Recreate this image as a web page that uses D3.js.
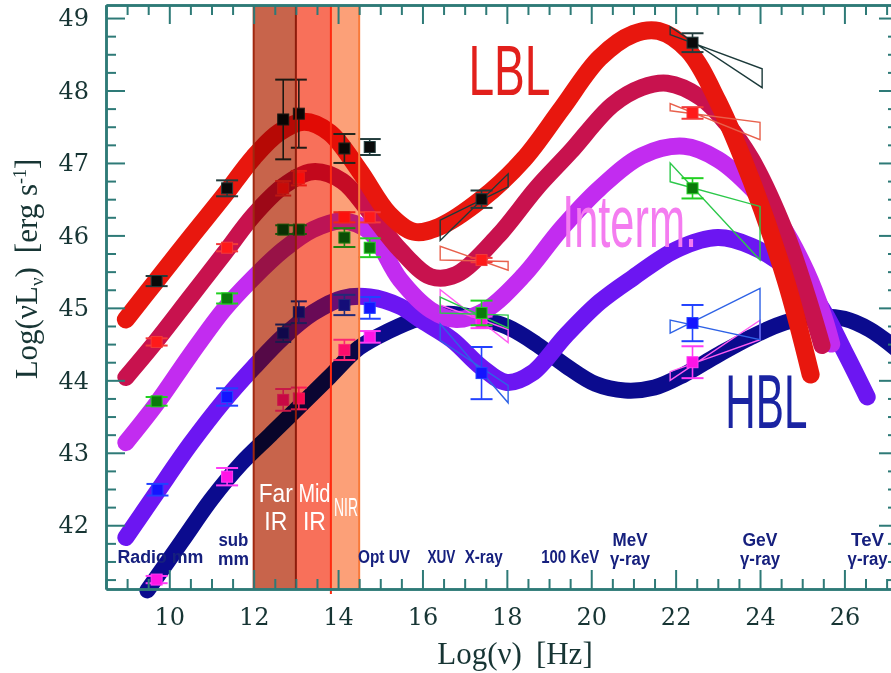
<!DOCTYPE html>
<html>
<head>
<meta charset="utf-8">
<script src="https://cdn.jsdelivr.net/npm/d3@7"></script>
<style>
  html, body { margin: 0; padding: 0; background: #fff; }
  svg { display: block; }
</style>
</head>
<body>
<div id="chart"></div>
<script>
// model curves, [log nu, log nuLnu]
const lblCurve = [[8.97,44.84],[9.7,45.38],[10.5,45.97],[11.3,46.55],[12.0,47.08],[12.6,47.42],[13.2,47.57],[13.8,47.42],[14.5,46.9],[15.2,46.3],[15.8,46.05],[16.4,46.12],[17.4,46.5],[18.4,47.05],[19.3,47.75],[20.2,48.45],[21.0,48.78],[21.6,48.82],[22.3,48.55],[23.0,47.85],[23.8,46.75],[24.6,45.4],[25.2,44.08]];
const hplCurve = [[8.97,44.04],[9.7,44.55],[10.5,45.15],[11.3,45.75],[12.0,46.28],[12.7,46.68],[13.4,46.88],[14.1,46.75],[14.75,46.32],[15.47,45.8],[16.2,45.43],[16.8,45.46],[17.8,46.0],[18.7,46.65],[19.5,47.15],[20.5,47.8],[21.2,48.04],[21.8,48.1],[22.6,47.9],[23.2,47.55],[23.8,47.05],[24.6,46.05],[25.1,45.2],[25.47,44.48]];
const intCurve = [[8.97,43.14],[9.7,43.68],[10.5,44.35],[11.3,44.98],[12.0,45.42],[12.7,45.8],[13.4,46.08],[14.1,46.2],[14.75,46.05],[15.47,45.39],[16.2,44.97],[16.8,44.84],[17.5,44.97],[18.4,45.45],[19.3,46.1],[20.2,46.65],[21.2,47.1],[22.2,47.23],[23.0,47.05],[23.8,46.65],[24.5,46.15],[25.1,45.5],[25.5,44.9],[25.7,44.5]];
const lowCurve = [[8.97,41.83],[9.7,42.45],[10.5,43.12],[11.3,43.72],[12.0,44.18],[12.7,44.6],[13.4,44.93],[14.1,45.13],[14.75,45.15],[15.47,45.02],[16.0,44.82],[16.7,44.56],[17.4,44.18],[18.0,43.97],[18.6,44.1],[19.4,44.62],[20.2,45.08],[21.0,45.42],[22.0,45.8],[23.0,45.97],[23.8,45.85],[24.6,45.56],[25.4,45.05],[26.0,44.4],[26.54,43.77]];
const hblCurve = [[9.48,41.1],[10.3,41.78],[11.0,42.36],[11.7,42.85],[12.4,43.25],[13.1,43.65],[13.8,44.05],[14.5,44.45],[15.2,44.68],[15.9,44.85],[16.6,44.92],[17.3,44.86],[18.0,44.74],[18.7,44.5],[19.4,44.2],[20.1,43.95],[20.8,43.86],[21.5,43.9],[22.2,44.08],[23.0,44.35],[23.8,44.6],[24.6,44.8],[25.4,44.88],[26.0,44.85],[26.6,44.7],[27.3,44.4]];

// measured points, [log nu, log nuLnu, error]
const lblPoints = [[9.7,45.37,0.07],[11.37,46.65,0.11],[12.7,47.6,0.55],[13.07,47.68,0.47],[14.15,47.2,0.2],[14.75,47.22,0.11],[17.4,46.5,0.12],[22.4,48.66,0.13]];
const hplPoints = [[9.7,44.53,0.05],[11.37,45.83,0.05],[12.7,46.65,0.1],[13.07,46.79,0.1],[14.15,46.25,0.07],[14.75,46.25,0.07],[17.4,45.66,0.03],[22.4,47.69,0.08]];
const intPoints = [[9.7,43.71,0.06],[11.37,45.13,0.07],[12.7,46.08,0.06],[13.07,46.08,0.06],[14.15,45.97,0.13],[14.75,45.83,0.13],[17.4,44.93,0.17],[22.4,46.65,0.14]];
const lowPoints = [[9.72,42.49,0.08],[11.37,43.77,0.12],[12.7,44.65,0.12],[13.07,44.94,0.15],[14.15,45.04,0.14],[14.75,45.0,0.15],[17.4,44.1,0.36],[22.4,44.79,0.25]];
const hblPoints = [[9.7,41.25,0.05],[11.37,42.67,0.12],[12.7,43.73,0.15],[13.07,43.75,0.15],[14.15,44.42,0.14],[14.75,44.6,0.08],[17.4,44.8,0.08],[22.4,44.25,0.22]];

// bow ties, [nu1, lo1, hi1, nu2, lo2, hi2]
const lblTies = [[16.42,45.93,46.21,18.03,46.67,46.85],[21.87,48.77,48.88,24.05,48.04,48.3]];
const hplTies = [[16.42,45.66,45.85,18.03,45.52,45.64],[21.87,47.72,47.82,24.0,47.32,47.56]];
const intTies = [[16.42,44.93,45.15,18.03,44.72,44.9],[21.87,46.74,47.0,24.0,45.66,46.4]];
const lowTies = [[16.42,44.55,44.78,18.03,43.69,43.93],[21.87,44.65,44.83,24.0,44.56,45.27]];
const hblTies = [[16.42,45.04,45.25,18.03,44.52,44.7],[21.87,44.0,44.12,24.0,44.56,44.83]];

// infrared bands
const bandNames = [['Far', 'IR'], ['Mid', 'IR'], ['NIR']];
const bandFrom = [12.0, 13.0, 13.83];
const bandTo = [13.0, 13.83, 14.5];

// spectral regions along the bottom
const regionNames = [['Radio mm'], ['sub', 'mm'], ['Opt UV'], ['XUV'], ['X-ray'], ['100 KeV'], ['MeV', 'γ-ray'], ['GeV', 'γ-ray'], ['TeV', 'γ-ray']];
const regionNu = [9.79, 11.52, 15.09, 16.45, 17.45, 19.5, 20.92, 24.0, 26.55];

const xTicks = [10, 12, 14, 16, 18, 20, 22, 24, 26];
const yTicks = [42, 43, 44, 45, 46, 47, 48, 49];

const width = 891, height = 673;
const x = d3.scaleLinear().domain([8.5, 27.27]).range([106, 898]);
const y = d3.scaleLinear().domain([41.12, 49.18]).range([589, 5]);

const svg = d3.select('#chart').append('svg')
  .attr('width', width)
  .attr('height', height);

svg.append('rect').attr('width', width).attr('height', height).attr('fill', '#fff');

const plot = svg.append('g').attr('class', 'plot');

const line = d3.line()
  .x(d => x(d[0]))
  .y(d => y(d[1]))
  .curve(d3.curveCatmullRom.alpha(0.5));

const curves = [
  { data: hblCurve, color: '#0b0b8e', w: 16 },
  { data: lowCurve, color: '#6c16f2', w: 17 },
  { data: intCurve, color: '#c22cf0', w: 17 },
  { data: hplCurve, color: '#c8124e', w: 17 },
  { data: lblCurve, color: '#e8170e', w: 18 }
];

plot.selectAll('path.sed')
  .data(curves)
  .join('path')
  .attr('class', 'sed')
  .attr('d', d => line(d.data))
  .attr('fill', 'none')
  .attr('stroke', d => d.color)
  .attr('stroke-width', d => d.w)
  .attr('stroke-linecap', 'round')
  .attr('stroke-linejoin', 'round');

const series = [
  { pts: hblPoints, ties: hblTies, fill: '#ff14e6', bar: '#ff3cf5', tie: '#ff5cf2' },
  { pts: lowPoints, ties: lowTies, fill: '#1414ff', bar: '#2242ff', tie: '#2e62e6' },
  { pts: intPoints, ties: intTies, fill: '#0b7a0b', bar: '#22d022', tie: '#2cc84a' },
  { pts: hplPoints, ties: hplTies, fill: '#ff1a1a', bar: '#f33a3a', tie: '#e8604c' },
  { pts: lblPoints, ties: lblTies, fill: '#0a0a0a', bar: '#223c3c', tie: '#1c3a3a' }
];

const tiePath = t => 'M' + [[t[0], t[1]], [t[3], t[5]], [t[3], t[4]], [t[0], t[2]]]
  .map(p => x(p[0]) + ',' + y(p[1])).join('L') + 'Z';

series.forEach(s => {
  const g = plot.append('g');
  g.selectAll('path.tie')
    .data(s.ties)
    .join('path')
    .attr('class', 'tie')
    .attr('d', tiePath)
    .attr('fill', 'none')
    .attr('stroke', s.tie)
    .attr('stroke-width', 1.4);

  const eb = g.selectAll('g.eb')
    .data(s.pts)
    .join('g')
    .attr('class', 'eb');
  const capHalf = d => (d[0] > 12 && d[0] < 13.5 ? 8 : 11);
  eb.append('line')
    .attr('x1', d => x(d[0])).attr('x2', d => x(d[0]))
    .attr('y1', d => y(d[1] - d[2])).attr('y2', d => y(d[1] + d[2]))
    .attr('stroke', s.bar).attr('stroke-width', 1.6);
  [-1, 1].forEach(k => {
    eb.append('line')
      .attr('x1', d => x(d[0]) - capHalf(d)).attr('x2', d => x(d[0]) + capHalf(d))
      .attr('y1', d => y(d[1] + k * d[2])).attr('y2', d => y(d[1] + k * d[2]))
      .attr('stroke', s.bar).attr('stroke-width', 2);
  });
  eb.append('rect')
    .attr('x', d => x(d[0]) - 5.5).attr('y', d => y(d[1]) - 5.5)
    .attr('width', 11).attr('height', 11)
    .attr('fill', s.fill)
    .attr('stroke', s.bar).attr('stroke-width', 1);
});

// IR bands laid over the curves
const bands = plot.append('g').style('mix-blend-mode', 'multiply');
const bandFill = ['#c8644b', '#f8705a', '#fca078'];
const bandEdge = ['#a02810', '#8e1c0c', '#ff2a10', '#f87a3a'];
bands.selectAll('rect')
  .data(bandFrom)
  .join('rect')
  .attr('x', d => x(d))
  .attr('y', y.range()[1])
  .attr('width', (d, i) => x(bandTo[i]) - x(d))
  .attr('height', y.range()[0] - y.range()[1])
  .attr('fill', (d, i) => bandFill[i]);

const edges = bandFrom.concat([bandTo[2]]);
plot.selectAll('line.edge')
  .data(edges)
  .join('line')
  .attr('class', 'edge')
  .attr('x1', d => x(d)).attr('x2', d => x(d))
  .attr('y1', y.range()[1]).attr('y2', (d, i) => i === 2 ? y.range()[0] + 5 : y.range()[0])
  .attr('stroke', (d, i) => bandEdge[i])
  .attr('stroke-width', 2);

const bandWidth = { Far: 34, Mid: 32, IR: 23, NIR: 24 };
plot.selectAll('g.bandlabel')
  .data(bandNames)
  .join('g')
  .attr('class', 'bandlabel')
  .each(function (lines, i) {
    const cx = (x(bandFrom[i]) + x(bandTo[i])) / 2 + 1;
    d3.select(this).selectAll('text')
      .data(lines)
      .join('text')
      .attr('x', cx)
      .attr('y', (t, j) => lines.length === 1 ? 516 : 502 + j * 28)
      .attr('text-anchor', 'middle')
      .attr('fill', '#fff')
      .attr('font-family', 'Liberation Sans, Arial, sans-serif')
      .attr('font-size', 26)
      .attr('textLength', t => bandWidth[t])
      .attr('lengthAdjust', 'spacingAndGlyphs')
      .text(t => t);
  });

// region names
const regionWidth = { 'Radio mm': 86, sub: 30, mm: 31, 'Opt UV': 52, XUV: 28, 'X-ray': 38, '100 KeV': 58, MeV: 35, GeV: 35, TeV: 33, 'γ-ray': 40 };
plot.selectAll('g.region')
  .data(regionNames)
  .join('g')
  .attr('class', 'region')
  .each(function (lines, i) {
    d3.select(this).selectAll('text')
      .data(lines)
      .join('text')
      .attr('x', x(regionNu[i]))
      .attr('y', (t, j) => lines.length === 1 ? 563 : 546 + j * 19)
      .attr('text-anchor', 'middle')
      .attr('fill', '#16207e')
      .attr('font-family', 'Liberation Sans, Arial, sans-serif')
      .attr('font-weight', 'bold')
      .attr('font-size', 18)
      .attr('textLength', t => regionWidth[t])
      .attr('lengthAdjust', 'spacingAndGlyphs')
      .text(t => t);
  });

// class labels
const classes = [
  { t: 'LBL', nu: 18.06, l: 47.94, c: '#e2201c', w: 82, fs: 70 },
  { t: 'Interm.', nu: 20.91, l: 45.84, c: '#f47cf0', w: 135, fs: 75 },
  { t: 'HBL', nu: 24.15, l: 43.34, c: '#1a24a2', w: 82, fs: 76 }
];
plot.selectAll('text.cls')
  .data(classes)
  .join('text')
  .attr('class', 'cls')
  .attr('x', d => x(d.nu))
  .attr('y', d => y(d.l))
  .attr('text-anchor', 'middle')
  .attr('fill', d => d.c)
  .attr('font-family', 'Liberation Sans, Arial, sans-serif')
  .attr('font-size', d => d.fs)
  .attr('textLength', d => d.w)
  .attr('lengthAdjust', 'spacingAndGlyphs')
  .text(d => d.t);

// axes, ticks pointing inward on all four sides
const axisColor = '#2e7a77';
const minorX = d3.range(8.5, 27.3, 0.5).filter(v => v % 2 !== 0);
const minorY = d3.range(41.25, 49.1, 0.25).filter(v => v % 1 !== 0);

function styleAxis(g) {
  g.select('.domain').attr('stroke', axisColor).attr('stroke-width', 2.5);
  g.selectAll('.tick line').attr('stroke', axisColor).attr('stroke-width', 2);
  g.selectAll('.tick text')
    .attr('fill', '#173534')
    .attr('font-family', 'DejaVu Serif, serif')
    .attr('font-size', 24);
}

const axes = svg.append('g');
const axBottom = axes.append('g').attr('transform', `translate(0,${y.range()[0]})`);
axBottom.append('g').call(d3.axisBottom(x).tickValues(minorX).tickSize(-10).tickSizeOuter(0).tickFormat('')).call(styleAxis);
axBottom.append('g').call(d3.axisBottom(x).tickValues(xTicks).tickSize(-19).tickSizeOuter(0).tickPadding(19).tickFormat(d3.format('d'))).call(styleAxis);

const axTop = axes.append('g').attr('transform', `translate(0,${y.range()[1]})`);
axTop.append('g').call(d3.axisTop(x).tickValues(minorX).tickSize(-10).tickSizeOuter(0).tickFormat('')).call(styleAxis);
axTop.append('g').call(d3.axisTop(x).tickValues(xTicks).tickSize(-19).tickSizeOuter(0).tickFormat('')).call(styleAxis);

const axLeft = axes.append('g').attr('transform', `translate(${x.range()[0]},0)`);
axLeft.append('g').call(d3.axisLeft(y).tickValues(minorY).tickSize(-10).tickSizeOuter(0).tickFormat('')).call(styleAxis);
axLeft.append('g').call(d3.axisLeft(y).tickValues(yTicks).tickSize(-19).tickSizeOuter(0).tickPadding(17).tickFormat(d3.format('d'))).call(styleAxis);

const axRight = axes.append('g').attr('transform', `translate(${x.range()[1]},0)`);
axRight.append('g').call(d3.axisRight(y).tickValues(minorY).tickSize(-10).tickSizeOuter(0).tickFormat('')).call(styleAxis);
axRight.append('g').call(d3.axisRight(y).tickValues(yTicks).tickSize(-19).tickSizeOuter(0).tickFormat('')).call(styleAxis);

// axis titles
const xTitle = svg.append('text')
  .attr('x', 515).attr('y', 664)
  .attr('text-anchor', 'middle')
  .attr('fill', '#173534')
  .attr('font-family', 'Liberation Serif, serif')
  .attr('font-size', 31);
xTitle.append('tspan').text('Log(ν)');
xTitle.append('tspan').attr('dx', 14).text('[Hz]');

const yTitle = svg.append('text')
  .attr('transform', 'translate(37,269) rotate(-90)')
  .attr('text-anchor', 'middle')
  .attr('fill', '#173534')
  .attr('font-family', 'Liberation Serif, serif')
  .attr('font-size', 31);
yTitle.append('tspan').text('Log(νL');
yTitle.append('tspan').attr('font-size', 19).attr('dy', 6).text('ν');
yTitle.append('tspan').attr('dy', -6).text(')');
yTitle.append('tspan').attr('dx', 14).text('[erg s');
yTitle.append('tspan').attr('font-size', 18).attr('dy', -11).text('-1');
yTitle.append('tspan').attr('dy', 11).text(']');
</script>
</body>
</html>
